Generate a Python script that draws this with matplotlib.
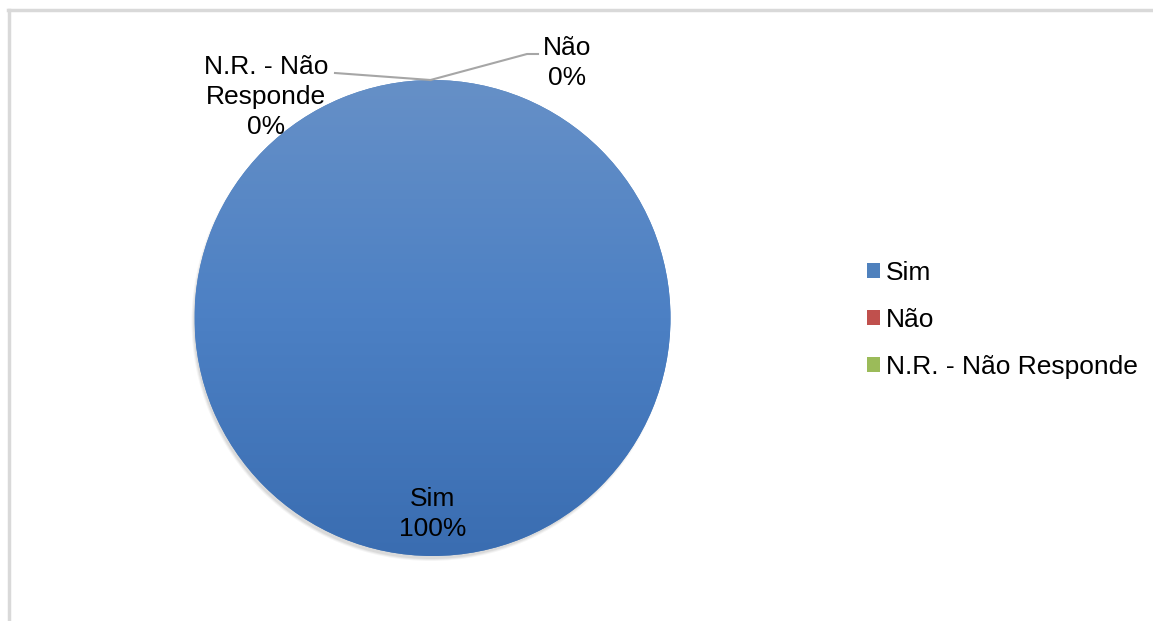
import numpy as np
import matplotlib
matplotlib.use("Agg")
import matplotlib.pyplot as plt
from matplotlib.patches import Patch, Circle
from matplotlib.colors import LinearSegmentedColormap

plt.rcParams['font.family'] = ['Liberation Sans', 'DejaVu Sans']

# dados
categorias = ["Sim", "Não", "N.R. - Não Responde"]
rotulos_pie = ["Sim", "Não", "N.R. - Não\nResponde"]
valores = [100, 0, 0]
cores = ["#4F81BD", "#C0504D", "#9BBB59"]

W, H = 1153, 621
fig = plt.figure(figsize=(W / 100, H / 100), dpi=100)
ax = fig.add_axes([0, 0, 1, 1])

cx, cy, r = 432.5, H - 318, 238

# sombra leve (embaixo / esquerda)
for k, a in enumerate([0.04, 0.05, 0.06]):
    ax.add_patch(Circle((cx - 2, cy - 4), r + 1 - k, color="black", alpha=a, lw=0, zorder=1))

wedges, _ = ax.pie(valores, colors=cores, startangle=90, counterclock=False,
                   center=(cx, cy), radius=r, wedgeprops=dict(linewidth=0))
for w in wedges:
    w.set_zorder(2)

# gradiente vertical na fatia principal
grad = LinearSegmentedColormap.from_list("g", ["#3A6DB1", "#4C80C4", "#6690C7"])
img = ax.imshow(np.linspace(0, 1, 256).reshape(-1, 1), cmap=grad, origin="lower",
                extent=(cx - r, cx + r, cy - r, cy + r), aspect="auto", zorder=3)
img.set_clip_path(wedges[0])

ax.set_xlim(0, W)
ax.set_ylim(0, H)
ax.set_aspect("auto")
ax.axis("off")

total = sum(valores)
pct = [v / total * 100 for v in valores]
fs = 19
ls = 1.32

# Sim dentro da fatia
ax.text(cx, H - 514, f"{rotulos_pie[0]}\n{pct[0]:.0f}%", ha="center", va="center",
        fontsize=fs, color="black", linespacing=ls, zorder=5)

# rótulos das fatias de 0% com linhas guia
topo = (cx - 2, cy + r)
ax.plot([topo[0], 527, 538], [topo[1], H - 54, H - 54], color="#A6A6A6", lw=1.5, zorder=4)
ax.text(567, H - 63, f"{rotulos_pie[1]}\n{pct[1]:.0f}%", ha="center", va="center",
        fontsize=fs, color="black", linespacing=ls, zorder=5)
ax.plot([topo[0], 335], [topo[1], H - 73], color="#A6A6A6", lw=1.5, zorder=4)
ax.text(266, H - 97, f"{rotulos_pie[2]}\n{pct[2]:.0f}%", ha="center", va="center",
        fontsize=fs, color="black", linespacing=ls, zorder=5)

# legenda
handles = [Patch(facecolor=c, edgecolor="none") for c in cores]
fig.legend(handles, categorias, loc="center left", bbox_to_anchor=(867 / W, 1 - 320 / H),
           frameon=False, fontsize=fs, handlelength=0.5, handleheight=0.5,
           handletextpad=0.22, labelspacing=0.88, borderpad=0, borderaxespad=0)

# moldura (topo e esquerda)
ax.plot([8, W], [H - 10, H - 10], color="#D9D9D9", lw=2.5, zorder=0, clip_on=False)
ax.plot([9, 9], [0, H - 10], color="#D9D9D9", lw=2.5, zorder=0, clip_on=False)

fig.savefig("out.png", dpi=100)
